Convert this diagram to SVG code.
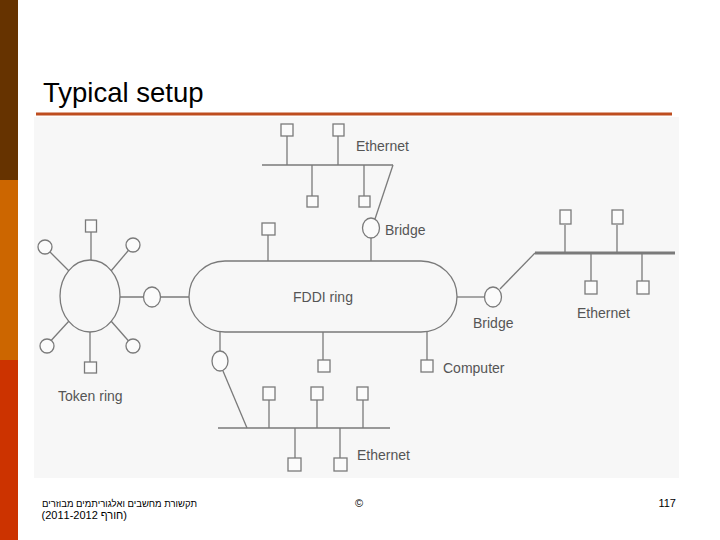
<svg xmlns="http://www.w3.org/2000/svg" width="720" height="540" viewBox="0 0 720 540">
<style>
.ln{stroke:#7a7a7a;stroke-width:1.3;fill:none}
.thk{stroke:#7a7a7a;stroke-width:3;fill:none}
.st{fill:#fbfbfb;stroke:#7a7a7a;stroke-width:1.3}
.br{fill:#fbfbfb;stroke:#7a7a7a;stroke-width:1.3}
.lbl{font-family:"Liberation Sans",Arial,sans-serif;font-size:14px;fill:#555}
.ft{font-family:"Liberation Sans","DejaVu Sans",Arial,sans-serif;font-size:11px;fill:#000}
.fh{font-size:9.5px}
</style>
<rect x="0" y="0" width="720" height="540" fill="#ffffff"/>
<rect x="0" y="0" width="18" height="180" fill="#663300"/>
<rect x="0" y="180" width="18" height="180" fill="#CC6600"/>
<rect x="0" y="360" width="18" height="180" fill="#CC3300"/>
<text x="43" y="102" font-family="Liberation Sans,Arial,sans-serif" font-size="27.5" fill="#000">Typical setup</text>
<rect x="36" y="112.5" width="636" height="3" fill="#BE4D1F"/>
<rect x="34" y="117" width="645" height="361" fill="#f7f7f7"/>

<g id="connectors">
<line class="ln" x1="262" y1="165" x2="393" y2="165"/>
<line class="ln" x1="287" y1="136" x2="287" y2="165"/>
<line class="ln" x1="338" y1="136" x2="338" y2="165"/>
<line class="ln" x1="312" y1="165" x2="312" y2="196"/>
<line class="ln" x1="364" y1="165" x2="364" y2="196"/>
<line class="ln" x1="393" y1="165" x2="375" y2="219"/>
<line class="ln" x1="371" y1="238" x2="371" y2="261"/>
<line class="ln" x1="268" y1="235" x2="268" y2="261"/>
<line class="ln" x1="91" y1="232" x2="91" y2="260"/>
<line class="ln" x1="90" y1="332" x2="90" y2="362"/>
<line class="ln" x1="69" y1="271" x2="45" y2="247"/>
<line class="ln" x1="111" y1="271" x2="133" y2="245"/>
<line class="ln" x1="69" y1="321" x2="47" y2="345"/>
<line class="ln" x1="111" y1="321" x2="133" y2="346"/>
<line class="ln" x1="120" y1="297" x2="189" y2="297"/>
<line class="ln" x1="220" y1="332" x2="220" y2="352"/>
<line class="ln" x1="323" y1="332" x2="323" y2="360"/>
<line class="ln" x1="427" y1="332" x2="427" y2="360"/>
<line class="ln" x1="457" y1="297" x2="485" y2="297"/>
<line class="ln" x1="500" y1="289" x2="535" y2="253"/>
<line class="thk" x1="535" y1="253" x2="675" y2="253"/>
<line class="ln" x1="565" y1="225" x2="565" y2="253"/>
<line class="ln" x1="617" y1="225" x2="617" y2="253"/>
<line class="ln" x1="591" y1="253" x2="591" y2="281"/>
<line class="ln" x1="642" y1="253" x2="642" y2="281"/>
<line class="ln" x1="223" y1="371" x2="247" y2="428"/>
<line class="ln" x1="218" y1="428" x2="390" y2="428"/>
<line class="ln" x1="269" y1="400" x2="269" y2="428"/>
<line class="ln" x1="317" y1="400" x2="317" y2="428" stroke-width="2.2"/>
<line class="ln" x1="363" y1="400" x2="363" y2="428"/>
<line class="ln" x1="295" y1="428" x2="295" y2="458"/>
<line class="ln" x1="340" y1="428" x2="340" y2="458"/>
</g>

<g id="fddi-ring">
<rect class="ln" x="189" y="261" width="268" height="71" rx="36" ry="35.5" fill="#fbfbfb"/>
<text class="lbl" x="323" y="302" text-anchor="middle">FDDI ring</text>
</g>
<g id="token-ring">
<ellipse class="ln" cx="90" cy="296" rx="30" ry="36" fill="#fbfbfb"/>
<text class="lbl" x="58" y="401">Token ring</text>
</g>
<g id="token-stations">
<rect class="st" x="85.5" y="220" width="11" height="12"/>
<rect class="st" x="84.5" y="362" width="12" height="11"/>
<circle class="br" cx="45" cy="247" r="7"/>
<circle class="br" cx="133" cy="245" r="7"/>
<circle class="br" cx="47" cy="346" r="7"/>
<circle class="br" cx="133" cy="346" r="7"/>
</g>
<g id="bridge-left"><ellipse class="br" cx="152" cy="297" rx="8.5" ry="10"/></g>
<g id="bridge-top">
<ellipse class="br" cx="371" cy="228" rx="8.5" ry="10"/>
<text class="lbl" x="385" y="235">Bridge</text>
</g>
<g id="bridge-right">
<ellipse class="br" cx="493" cy="297" rx="8.5" ry="10"/>
<text class="lbl" x="473" y="328">Bridge</text>
</g>
<g id="bridge-bottom"><ellipse class="br" cx="220" cy="361" rx="8" ry="10"/></g>

<g id="ethernet-top">
<rect class="st" x="281" y="124" width="12" height="12"/>
<rect class="st" x="333" y="124" width="11" height="12"/>
<rect class="st" x="307" y="196" width="11" height="11"/>
<rect class="st" x="359" y="196" width="11" height="11"/>
<text class="lbl" x="356" y="151">Ethernet</text>
</g>
<g id="station-fddi-top"><rect class="st" x="262" y="223" width="13" height="12"/></g>
<g id="station-fddi-bottom"><rect class="st" x="318" y="360" width="12" height="12"/></g>
<g id="computer">
<rect class="st" x="421" y="360" width="12" height="12"/>
<text class="lbl" x="443" y="373">Computer</text>
</g>
<g id="ethernet-right">
<rect class="st" x="560" y="210" width="11" height="14"/>
<rect class="st" x="612" y="210" width="11" height="14"/>
<rect class="st" x="585" y="281" width="12" height="13"/>
<rect class="st" x="637" y="281" width="12" height="13"/>
<text class="lbl" x="577" y="318">Ethernet</text>
</g>
<g id="ethernet-bottom">
<rect class="st" x="263" y="387" width="12" height="13"/>
<rect class="st" x="311" y="387" width="12" height="13"/>
<rect class="st" x="357" y="387" width="11" height="13"/>
<rect class="st" x="288" y="458" width="13" height="13"/>
<rect class="st" x="334" y="458" width="13" height="13"/>
<text class="lbl" x="357" y="460">Ethernet</text>
</g>

<g id="footer">
<text class="ft fh" x="197" y="507" direction="rtl" unicode-bidi="embed">תקשורת מחשבים ואלגוריתמים מבוזרים</text>
<text class="ft" x="127" y="519" direction="rtl" unicode-bidi="embed">(חורף 2011-2012)</text>
<text class="ft" x="355" y="507">©</text>
<text class="ft" x="676" y="507" text-anchor="end">117</text>
</g>
</svg>
